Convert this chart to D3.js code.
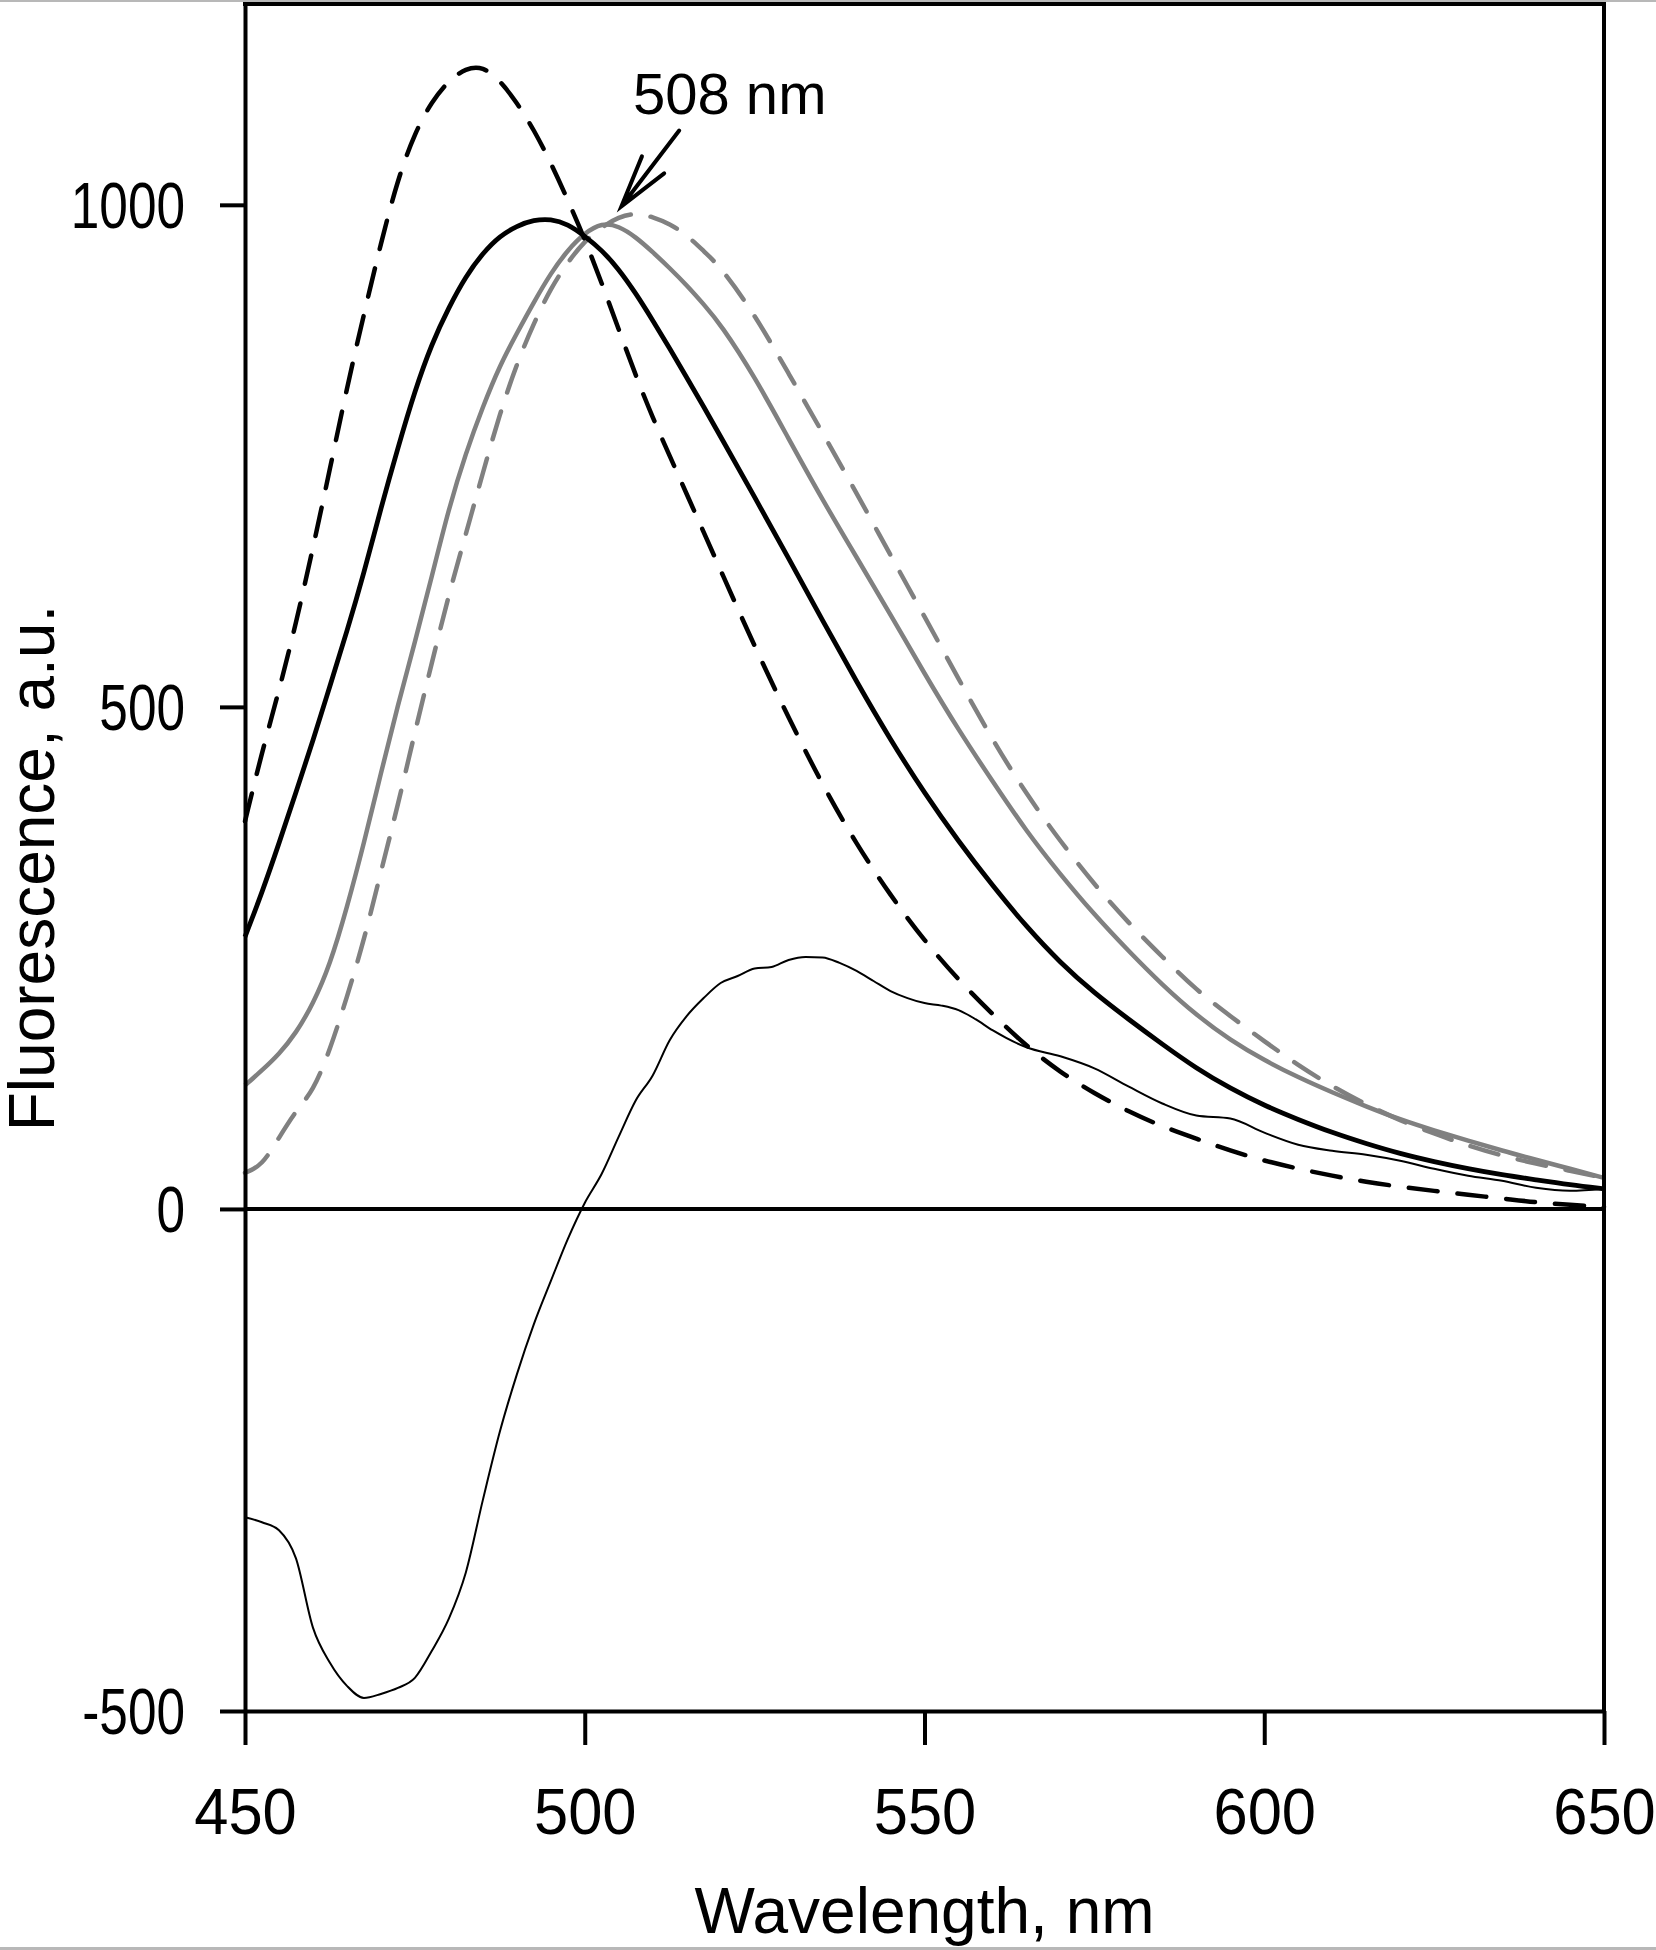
<!DOCTYPE html>
<html>
<head>
<meta charset="utf-8">
<script src="https://cdn.jsdelivr.net/npm/d3@7"></script>
<style>
  body { margin: 0; background: #fff; }
  svg { display: block; }
  text { font-family: "Liberation Sans", Arial, sans-serif; fill: #000; }
</style>
</head>
<body>
<svg id="chart" width="1656" height="1950"></svg>
<script>

// shared wavelength grid (nm) for the four emission spectra
let wavelengths = [450, 452.5, 455, 457.5, 460, 462.5, 465, 467.5, 470, 472.5, 475, 477.5,
  480, 482.5, 485, 487.5, 490, 492.5, 495, 497.5, 500, 502.5, 505, 507.5, 510, 512.5,
  515, 517.5, 520, 525, 530, 535, 540, 545, 550, 555, 560, 565, 570, 575, 580, 585,
  590, 595, 600, 605, 610, 615, 620, 625, 630, 635, 640, 645, 650]

let blackDashed = [386, 455, 516, 583, 658, 737, 818, 891, 962, 1026, 1072, 1103,
  1124, 1136, 1138, 1124, 1102, 1075, 1042, 1005, 966, 922, 876, 830, 788, 750,
  712, 674, 636, 560, 489, 422, 363, 312, 267, 228, 194, 162, 136, 115, 97, 82,
  70, 58, 48, 40, 33, 27, 22, 18, 14, 10.5, 6.5, 4, 2]

let blackSolid = [271, 315, 364, 415, 466, 521, 575, 633, 698, 758, 815, 862,
  898, 929, 952, 969, 979, 985, 986, 981, 969, 955, 936, 912, 885, 857,
  828, 799, 769, 709, 648, 586, 525, 467, 414, 366, 322, 281, 245, 215, 189, 164,
  140, 120, 103, 89, 76, 65, 55, 47, 40, 34, 29, 24, 20]

let graySolid = [123, 138, 154, 175, 204, 243, 300, 364, 434, 502, 564, 630,
  698, 753, 799, 840, 872, 903, 932, 955, 972, 982, 979, 968, 953, 937,
  920, 901, 881, 829, 767, 706, 649, 592, 533, 477, 426, 376, 333, 293, 257, 223,
  193, 168, 148, 131, 116, 102, 89, 78, 68, 58, 49, 40, 31]

let grayDashed = [36, 43, 71, 98, 117, 158, 211, 267, 336, 402, 475, 544,
  612, 672, 733, 792, 842, 882, 917, 943, 964, 978, 988, 992, 988, 981,
  970, 954, 938, 891, 832, 773, 713, 651, 590, 528, 467, 413, 366, 323, 285, 251,
  218, 192, 167, 143, 122, 104, 88, 75, 63, 53, 45, 38, 31]

// difference spectrum, read on its own grid
let diffWavelengths = [450, 452.5, 455, 457.5, 460, 462.5, 465, 467.5, 470, 472.5, 475, 477.5,
  480, 482.5, 485, 487.5, 490, 492.5, 495, 497.5, 500, 502.5, 505, 507.5, 510, 512.5,
  515, 517.5, 520, 522.5, 525, 527.5, 530, 532.5, 535, 537.5, 540, 542.5, 545, 547.5,
  550, 552.5, 555, 557.5, 560, 565, 570, 575, 580, 585, 590, 595, 600, 605, 610, 615,
  620, 625, 630, 635, 640, 645, 650]

let difference = [-307, -312, -320, -348, -417, -452, -475, -487, -483, -477, -467, -440,
  -408, -362, -290, -222, -165, -115, -72, -30, 6, 35, 72, 108, 133, 168,
  192, 210, 225, 232, 239.5, 241, 248, 251, 250.5, 245, 237, 227, 217, 210,
  205, 202.5, 198, 189, 178, 161, 152, 140, 122, 105, 93, 90, 76, 64, 58, 54,
  48, 40, 33, 28, 21, 18, 20]

let xTicks = [450, 500, 550, 600, 650]
let yTicks = [-500, 0, 500, 1000]

// peak annotation (data coordinates)
let peakLabel = "508 nm"
let labelAt = [507.1, 1090]
let arrowFrom = [513.9, 1074]
let arrowTo = [505.4, 998.5]

let x = d3.scaleLinear().domain([450, 650]).range([245, 1604])
let y = d3.scaleLinear().domain([-500, 1200]).range([1711, 4])

let svg = d3.select("#chart")

// light grey frame lines of the original figure
svg.append("rect").attr("x", 0).attr("y", 0).attr("width", 1656).attr("height", 2).attr("fill", "#b8b8b8")
svg.append("rect").attr("x", 0).attr("y", 1947).attr("width", 1656).attr("height", 3).attr("fill", "#b8b8b8")

function draw_series() {
  let series = [
    {values: grayDashed, color: "#808080", dash: "29,20", w: 4.5},
    {values: graySolid, color: "#808080", dash: null, w: 4.5},
    {values: blackDashed, color: "#000", dash: "29,20", w: 4.5},
    {values: blackSolid, color: "#000", dash: null, w: 4.8}
  ]

  let line = d3.line()
    .x((d, i) => x(wavelengths[i]))
    .y(d => y(d))
    .curve(d3.curveBasis)

  svg.append("g").selectAll("path")
    .data(series).enter()
    .append("path")
    .attr("d", d => line(d.values))
    .attr("fill", "none")
    .attr("stroke", d => d.color)
    .attr("stroke-width", d => d.w)
    .attr("stroke-dasharray", d => d.dash)
    .attr("stroke-linecap", d => d.dash ? "round" : "butt")
    .attr("stroke-linejoin", "round")

  let diffLine = d3.line()
    .x((d, i) => x(diffWavelengths[i]))
    .y(d => y(d))
    .curve(d3.curveMonotoneX)

  svg.append("path")
    .attr("d", diffLine(difference))
    .attr("fill", "none")
    .attr("stroke", "#000")
    .attr("stroke-width", 2)
}

function draw_axes() {
  let fmt = d => String(d)

  let xAxis = svg.append("g")
    .attr("transform", `translate(0,${y(-500)})`)
    .call(d3.axisBottom(x).tickValues(xTicks).tickFormat(fmt).tickSize(34).tickSizeOuter(0).tickPadding(44))
  xAxis.selectAll("text")
    .attr("font-size", 64)
    .attr("font-family", "Liberation Sans, Arial, sans-serif")
    .attr("transform", "scale(0.96,1)")

  let yAxis = svg.append("g")
    .attr("transform", `translate(${x(450)},0)`)
    .call(d3.axisLeft(y).tickValues(yTicks).tickFormat(fmt).tickSize(25).tickSizeOuter(0))
  yAxis.selectAll("text")
    .attr("x", 0)
    .attr("dy", "0.35em")
    .attr("font-size", 65)
    .attr("font-family", "Liberation Sans, Arial, sans-serif")
    .attr("transform", "translate(-60,0) scale(0.79,1)")

  for (let g of [xAxis, yAxis]) {
    g.selectAll("path, line").attr("stroke", "#000").attr("stroke-width", 4)
  }

  // top and right frame, zero line
  svg.append("path")
    .attr("d", `M${x(450)},${y(1200)}H${x(650)}V${y(-500)}`)
    .attr("fill", "none").attr("stroke", "#000").attr("stroke-width", 4)
    .attr("stroke-linecap", "square")
  svg.append("line")
    .attr("x1", x(450)).attr("x2", x(650))
    .attr("y1", y(0)).attr("y2", y(0))
    .attr("stroke", "#000").attr("stroke-width", 4)

  svg.append("text")
    .attr("x", (x(450) + x(650)) / 2)
    .attr("y", 1933)
    .attr("text-anchor", "middle")
    .attr("font-size", 64)
    .text("Wavelength, nm")

  svg.append("text")
    .attr("transform", "translate(54,868) rotate(-90)")
    .attr("text-anchor", "middle")
    .attr("font-size", 64)
    .text("Fluorescence, a.u.")
}

function draw_annotation() {
  svg.append("text")
    .attr("x", x(labelAt[0]))
    .attr("y", y(labelAt[1]))
    .attr("font-size", 58)
    .text(peakLabel)

  let x0 = x(arrowFrom[0]), y0 = y(arrowFrom[1]),
      x1 = x(arrowTo[0]), y1 = y(arrowTo[1])
  let ang = Math.atan2(y0 - y1, x0 - x1),
      len = 54, spread = 15 * Math.PI / 180
  let b1 = [x1 + len * Math.cos(ang - spread), y1 + len * Math.sin(ang - spread)],
      b2 = [x1 + len * Math.cos(ang + spread), y1 + len * Math.sin(ang + spread)]

  svg.append("path")
    .attr("d", `M${x0},${y0}L${x1},${y1}M${b1[0]},${b1[1]}L${x1},${y1}L${b2[0]},${b2[1]}`)
    .attr("fill", "none")
    .attr("stroke", "#000")
    .attr("stroke-width", 4)
    .attr("stroke-linecap", "round")
}

draw_series()
draw_axes()
draw_annotation()

</script>
</body>
</html>
